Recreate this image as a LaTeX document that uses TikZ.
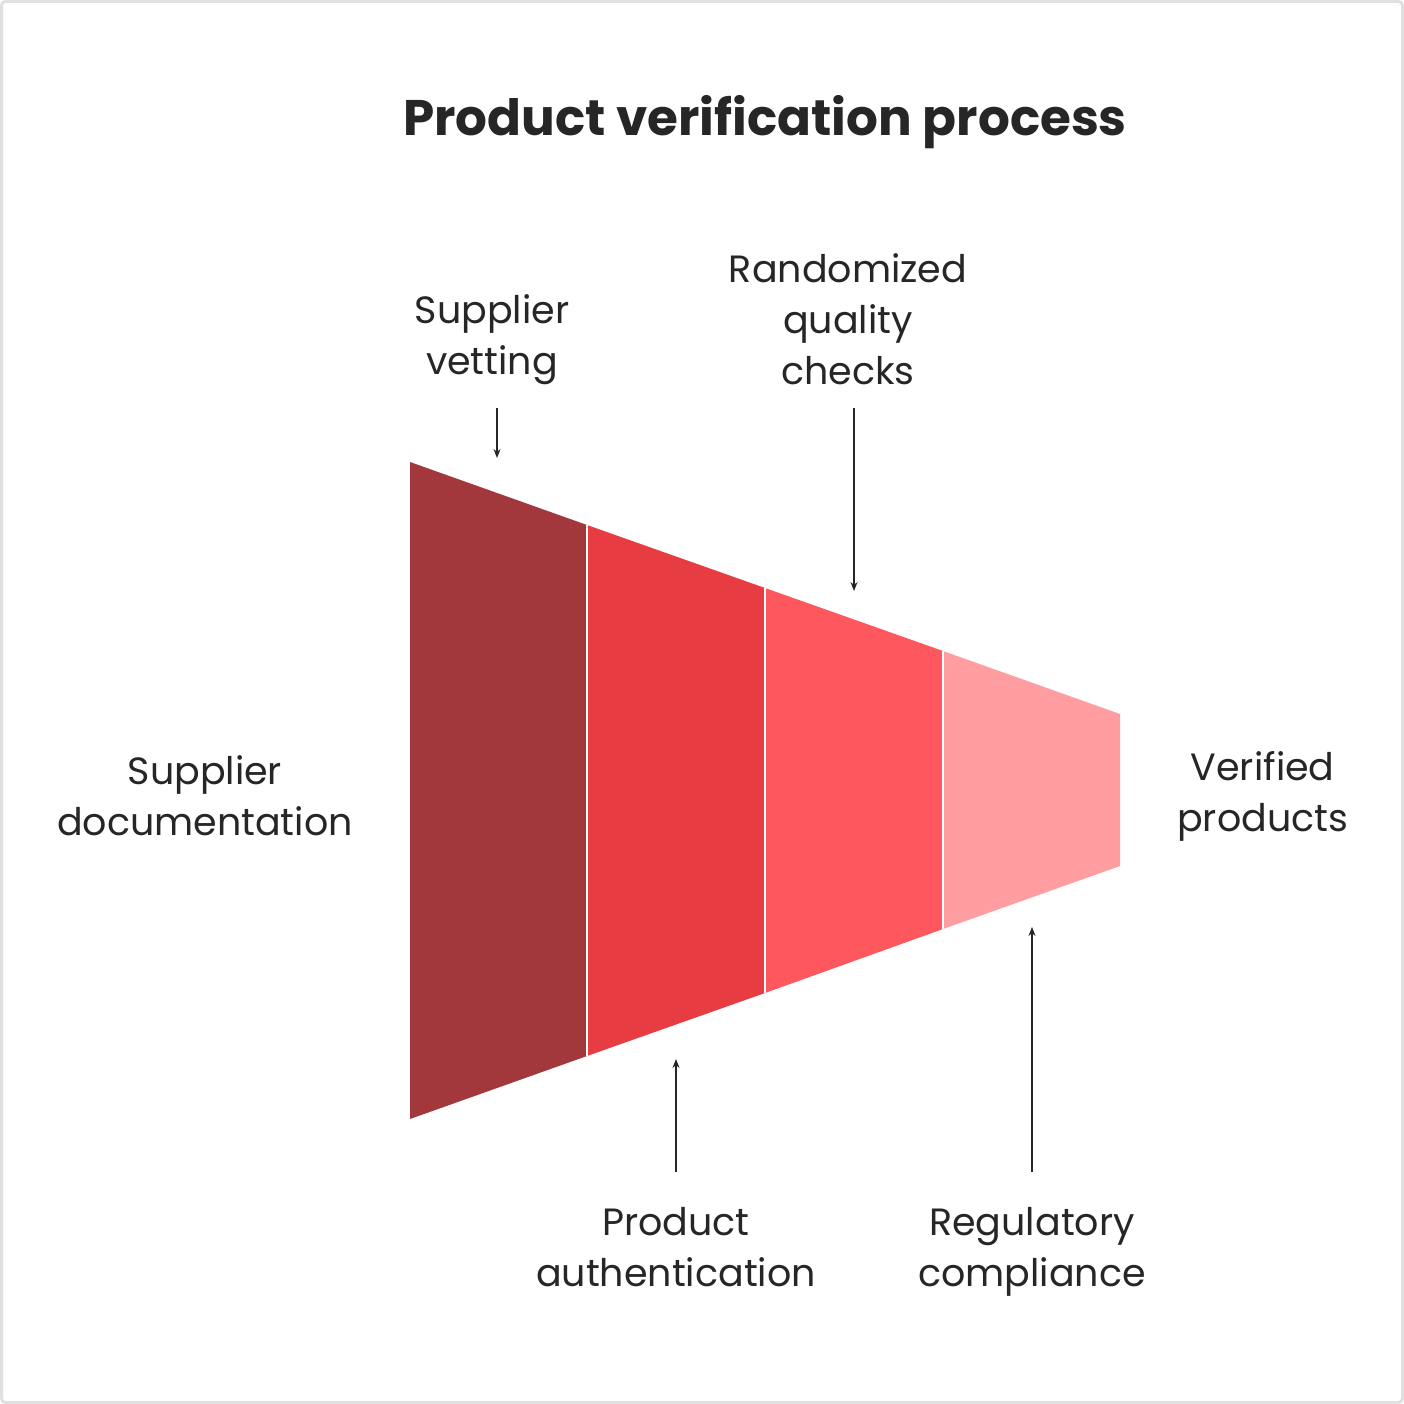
\documentclass[tikz,border=0pt]{standalone}
\usepackage{fontspec}
\setmainfont{Poppins}
\usetikzlibrary{arrows.meta}
\begin{document}
\begin{tikzpicture}[x=1pt,y=-1pt,
 lbl/.style={align=center,font=\fontsize{38}{51}\selectfont,text=black!85,inner sep=0pt},
 arr/.style={-{Stealth[length=9pt,width=7pt]},line width=1.3pt,draw=black!85},
 seg/.style={draw=white,line width=1.5pt}]
\useasboundingbox (0,0) rectangle (1404,1404);
\draw[draw=black!12,line width=3pt,rounded corners=4pt,fill=white] (1.5,1.5) rectangle (1402.5,1402.5);
\definecolor{c1}{HTML}{A3383C}\definecolor{c2}{HTML}{E83C43}
\definecolor{c3}{HTML}{FF575E}\definecolor{c4}{HTML}{FF9DA0}
\fill[c1] (410,462)--(587,525)--(587,1056)--(410,1119)--cycle;
\fill[c2] (587,525)--(765,588)--(765,993)--(587,1056)--cycle;
\fill[c3] (765,588)--(943,651)--(943,929)--(765,993)--cycle;
\fill[c4] (943,651)--(1120,714)--(1120,866)--(943,929)--cycle;
\draw[seg] (587,525)--(587,1056);
\draw[seg] (765,588)--(765,993);
\draw[seg] (943,651)--(943,929);
\node[lbl,font=\fontsize{50}{60}\selectfont\bfseries] (title) at (765,122) {Product verification process};
\node[lbl,anchor=south] (sv) at (492,385) {Supplier\\vetting};
\node[lbl,anchor=south] (rq) at (848,385) {Randomized\\quality\\checks};
\node[lbl,anchor=east] (sd) at (353,796) {Supplier\\documentation};
\node[lbl,anchor=west] (vp) at (1177,796) {Verified\\products};
\node[lbl,anchor=north] (pa) at (676,1207) {Product\\authentication};
\node[lbl,anchor=north] (rc) at (1032,1207) {Regulatory\\compliance};
\coordinate (a1) at (497,408); \coordinate (b1) at (497,458);
\coordinate (a2) at (854,408); \coordinate (b2) at (854,591);
\coordinate (a3) at (676,1172); \coordinate (b3) at (676,1059);
\coordinate (a4) at (1032,1172); \coordinate (b4) at (1032,927);
\draw[arr] (a1)--(b1); \draw[arr] (a2)--(b2);
\draw[arr] (a3)--(b3); \draw[arr] (a4)--(b4);
\end{tikzpicture}
\end{document}
